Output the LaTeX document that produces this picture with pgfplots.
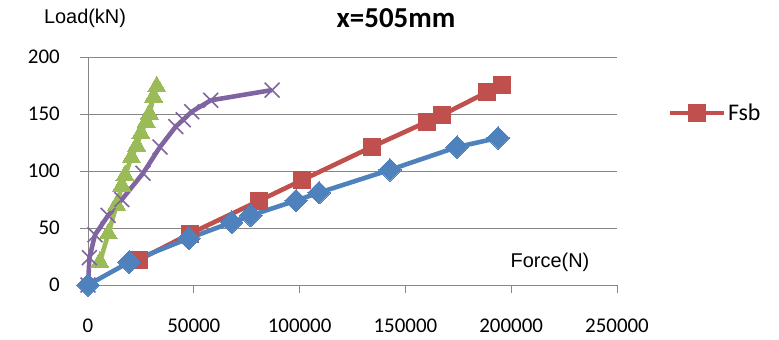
\documentclass[border=0pt]{standalone}
\usepackage{pgfplots}
\pgfplotsset{compat=1.18}
\usepackage{fontspec}
\setmainfont{Carlito}
\newfontfamily\arialf{Liberation Sans}
\definecolor{xblue}{HTML}{4F81BD}
\definecolor{xred}{HTML}{C0504D}
\definecolor{xgreen}{HTML}{9BBB59}
\definecolor{xpurple}{HTML}{8064A2}
\definecolor{xgrid}{HTML}{868686}
\begin{document}
\begin{tikzpicture}
\useasboundingbox (-88bp,-55bp) rectangle (691bp,285bp);
\begin{axis}[
  at={(0,0)}, anchor=south west,
  scale only axis, width=529bp, height=228bp,
  xmin=0, xmax=250000, ymin=0, ymax=200,
  xtick={0,50000,100000,150000,200000,250000},
  ytick={0,50,100,150,200},
  scaled x ticks=false,
  xticklabel style={/pgf/number format/fixed,/pgf/number format/1000 sep={}},
  /pgf/number format/assume math mode=true,
  axis x line=bottom, axis y line=left,
  axis line style={xgrid, line width=1pt, -},
  ymajorgrids, grid style={xgrid, line width=1pt},
  tick align=outside, major tick length=8bp,
  tick style={xgrid, line width=1pt},
  tick label style={font=\fontsize{21}{24}\selectfont, text=black},
  xticklabel style={anchor=north, inner sep=0pt, yshift=-26bp},
  yticklabel style={anchor=east, inner sep=0pt, xshift=-20bp},
  clip=false,
  legend style={at={(1.095,0.754)}, anchor=west, draw=none, fill=none,
    font=\fontsize{24}{28}\selectfont, inner sep=0pt},
  legend cell align=left,
  legend image code/.code={\draw[mark repeat=2,mark phase=2,#1] plot coordinates {(0bp,0bp)(27bp,0bp)(54bp,0bp)};},
]
\addplot[xred, line width=4.6pt, mark=square*, mark size=8.5bp, mark options={line width=0pt}] coordinates {
(24100,22)(48200,45)(81000,74)(101200,92)(134000,121)(160000,143)(167200,149)(188400,169)(195500,175)};
\addlegendentry{Fsb}
\addplot[xgreen, line width=4.6pt, mark=triangle*, mark size=10.5bp, mark options={line width=0pt}, forget plot] coordinates {
(5600,20)(9600,45)(13500,70)(16000,87)(17500,96)(20500,112)(23000,122)(25000,133)(27500,143)(29000,150)(31000,165)(32500,174)};
\addplot[xpurple, line width=4.6pt, mark=x, mark size=10.5bp, mark options={line width=1.6pt}, forget plot] coordinates {
(0,0)(700,24)(3300,44)(9500,61)(16000,75)(26000,98)(34000,121)(41500,139)(45000,145)(49000,152)(58000,162)(87000,171)};
\addplot[xblue, line width=4.6pt, mark=square*, mark size=8bp, mark options={rotate=45, line width=0pt}, forget plot] coordinates {
(0,0)(19400,20)(47700,41)(67900,55)(76900,61)(98300,74)(109200,81)(142700,101)(174400,121)(193800,129)};
\end{axis}
\node[font=\fontsize{29}{32}\selectfont\bfseries] at (308bp,267bp) {x=505mm};
\node[font=\arialf\fontsize{20}{24}\selectfont] at (-3bp,267bp) {Load(kN)};
\node[font=\arialf\fontsize{20}{24}\selectfont] at (462bp,23bp) {Force(N)};
\end{tikzpicture}
\end{document}
